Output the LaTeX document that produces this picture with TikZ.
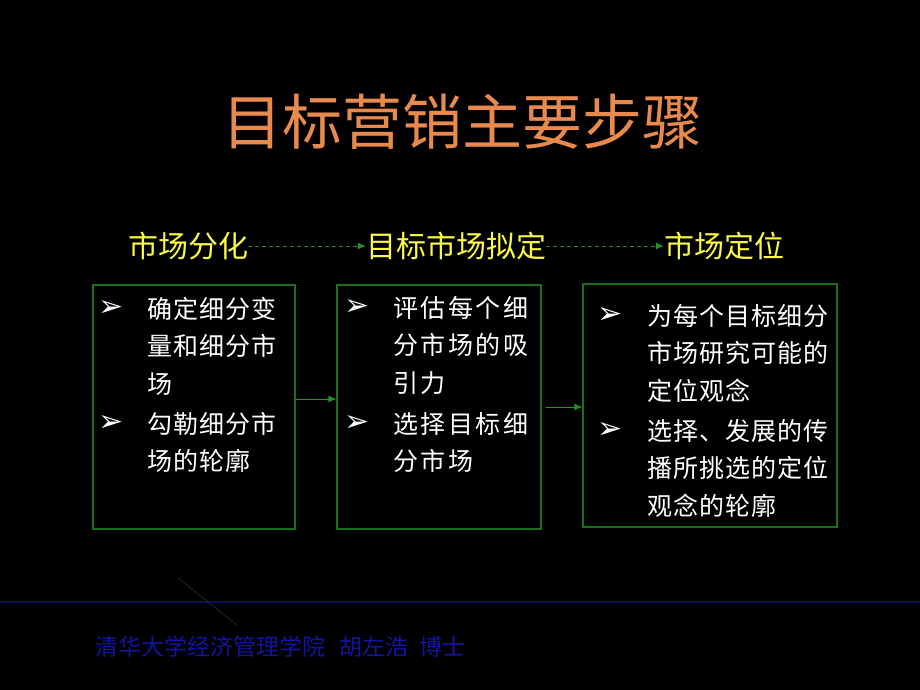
\documentclass[tikz,border=0pt]{standalone}
\usepackage{fontspec}
\usepackage{xcolor}
\usepackage{tikz}
\usetikzlibrary{arrows.meta}
\newfontfamily\cjk{Noto Sans CJK SC}[LetterSpace=4]
\newfontfamily\cjkwide{Noto Sans CJK SC}[LetterSpace=10]
\newfontfamily\cjkplain{Noto Sans CJK SC}
\newfontfamily\dingfont{DejaVu Sans}
\definecolor{titleorange}{RGB}{232,138,78}
\definecolor{stepyellow}{RGB}{250,250,70}
\definecolor{boxgreen}{RGB}{28,112,28}
\definecolor{arrowgreen}{RGB}{30,150,30}
\definecolor{footblue}{RGB}{20,20,160}
\definecolor{footline}{RGB}{12,12,80}
\tikzset{
  stepbox/.style    = {shape=rectangle, draw=boxgreen, line width=1.1pt, inner sep=0pt},
  head/.style       = {font=\cjkplain\fontsize{30}{32}\selectfont, text=stepyellow, inner sep=0pt},
  item/.style       = {font=\cjk\fontsize{25}{37.5}\selectfont, text=white, align=left,
                       inner sep=0pt, anchor=north west},
  wideitem/.style   = {item, font=\cjkwide\fontsize{25}{37.5}\selectfont},
  bulletmark/.style = {font=\dingfont\fontsize{30}{30}\selectfont, text=white, inner sep=0pt},
  flow/.style       = {draw=arrowgreen, line width=1pt, -{Latex[length=8pt,width=7pt]}},
  dashflow/.style   = {flow, dash pattern=on 4pt off 3pt}
}
\begin{document}
\begin{tikzpicture}[x=1pt, y=-1pt]
  \fill[black] (0,0) rectangle (920,690);
  \useasboundingbox (0,0) rectangle (920,690);

  \node [font=\cjkplain\fontsize{60}{62}\selectfont, text=titleorange] (title) at (462,122) {目标营销主要步骤};

  % step headers
  \node [head] (hA) at (188,246) {市场分化};
  \node [head] (hB) at (456,246) {目标市场拟定};
  \node [head] (hC) at (724,246) {市场定位};
  \draw [dashflow] (hA) -- (hB);
  \draw [dashflow] (hB) -- (hC);

  % boxes
  \node [stepbox, minimum width=202, minimum height=244] (b1) at (194,407) {};
  \node [stepbox, minimum width=204, minimum height=244] (b2) at (439,407) {};
  \node [stepbox, minimum width=254, minimum height=243] (b3) at (710,405.5) {};
  \draw [flow] ([yshift=8pt]b1.east) -- ([yshift=8pt]b1.east -| b2.west);
  \draw [flow] ([xshift=4pt]b2.east) -- (b2.east -| b3.west);

  \node [bulletmark] (m11) at (111,308) {➢};
  \node [item] (t11) at (147,297) {确定细分变\\量和细分市\\场};
  \node [bulletmark] (m12) at (111,423) {➢};
  \node [item] (t12) at (147,412) {勾勒细分市\\场的轮廓};

  \node [bulletmark] (m21) at (357,307) {➢};
  \node [wideitem] (t21) at (393,296) {评估每个细\\分市场的吸\\引力};
  \node [bulletmark] (m22) at (357,423) {➢};
  \node [wideitem] (t22) at (393,412) {选择目标细\\分市场};

  \node [bulletmark] (m31) at (610,315) {➢};
  \node [item] (t31) at (647,304) {为每个目标细分\\市场研究可能的\\定位观念};
  \node [bulletmark] (m32) at (610,430) {➢};
  \node [item] (t32) at (647,419) {选择、发展的传\\播所挑选的定位\\观念的轮廓};

  % footer
  \draw [footline, line width=2pt] (0,602) -- (920,602);
  \draw [color=footline!60!gray, line width=0.4pt] (178,578) -- (237,625);
  \node [font=\cjkplain\fontsize{23}{25}\selectfont, text=footblue, anchor=west, inner sep=0pt]
    (foot) at (95,647) {清华大学经济管理学院\hspace{14pt}胡左浩\hspace{11pt}博士};
\end{tikzpicture}
\end{document}
